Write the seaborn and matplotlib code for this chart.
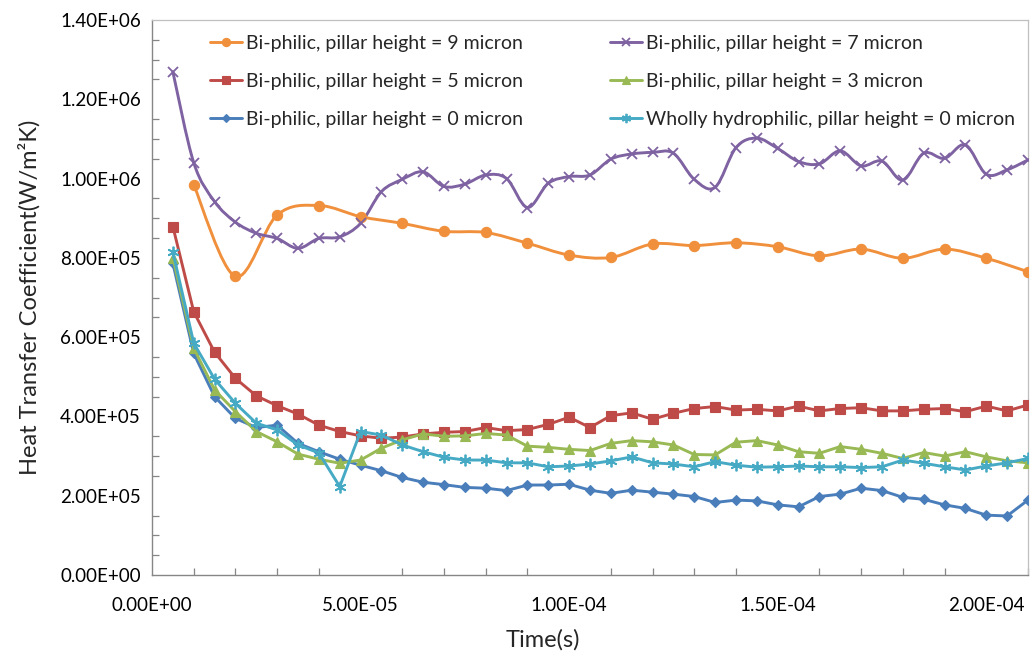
import numpy as np
import pandas as pd
import matplotlib
matplotlib.use("Agg")
import matplotlib.pyplot as plt
from matplotlib.path import Path
from matplotlib.patches import PathPatch
from matplotlib.lines import Line2D
from matplotlib.ticker import MultipleLocator, FuncFormatter
import seaborn as sns

# Sampling instants (microseconds)
time_us_fine = list(range(5, 211, 5))      # every 5 us
time_us_coarse = list(range(10, 211, 10))  # every 10 us

h_9um = [9.84e5, 7.53e5, 9.08e5, 9.32e5, 9.04e5, 8.87e5, 8.67e5, 8.64e5, 8.37e5, 8.07e5,
         8.01e5, 8.35e5, 8.31e5, 8.38e5, 8.28e5, 8.05e5, 8.22e5, 7.99e5, 8.22e5, 7.99e5,
         7.65e5]

h_7um = [1.269e6, 1.040e6, 9.42e5, 8.90e5, 8.62e5, 8.49e5, 8.24e5, 8.49e5, 8.53e5, 8.87e5,
         9.67e5, 9.98e5, 1.017e6, 9.80e5, 9.86e5, 1.009e6, 1.000e6, 9.27e5, 9.88e5, 1.005e6,
         1.009e6, 1.049e6, 1.062e6, 1.066e6, 1.064e6, 9.98e5, 9.78e5, 1.078e6, 1.102e6, 1.076e6,
         1.043e6, 1.037e6, 1.070e6, 1.032e6, 1.044e6, 9.96e5, 1.064e6, 1.051e6, 1.085e6, 1.011e6,
         1.022e6, 1.047e6]

h_5um = [8.79e5, 6.64e5, 5.62e5, 4.96e5, 4.52e5, 4.27e5, 4.06e5, 3.78e5, 3.62e5, 3.51e5,
         3.45e5, 3.48e5, 3.56e5, 3.60e5, 3.62e5, 3.72e5, 3.64e5, 3.67e5, 3.80e5, 3.98e5,
         3.72e5, 4.02e5, 4.09e5, 3.93e5, 4.08e5, 4.20e5, 4.25e5, 4.16e5, 4.18e5, 4.14e5,
         4.26e5, 4.14e5, 4.20e5, 4.22e5, 4.14e5, 4.14e5, 4.18e5, 4.20e5, 4.12e5, 4.26e5,
         4.14e5, 4.29e5]

h_3um = [8.00e5, 5.72e5, 4.67e5, 4.12e5, 3.62e5, 3.36e5, 3.05e5, 2.92e5, 2.82e5, 2.90e5,
         3.20e5, 3.41e5, 3.56e5, 3.50e5, 3.51e5, 3.57e5, 3.53e5, 3.25e5, 3.22e5, 3.17e5,
         3.14e5, 3.32e5, 3.39e5, 3.36e5, 3.28e5, 3.04e5, 3.03e5, 3.35e5, 3.39e5, 3.28e5,
         3.11e5, 3.07e5, 3.24e5, 3.17e5, 3.07e5, 2.94e5, 3.09e5, 3.00e5, 3.11e5, 2.98e5,
         2.88e5, 2.83e5]

h_0um = [7.86e5, 5.59e5, 4.50e5, 3.95e5, 3.72e5, 3.78e5, 3.32e5, 3.11e5, 2.92e5, 2.77e5,
         2.63e5, 2.46e5, 2.34e5, 2.28e5, 2.21e5, 2.19e5, 2.13e5, 2.27e5, 2.27e5, 2.29e5,
         2.14e5, 2.06e5, 2.14e5, 2.09e5, 2.04e5, 1.98e5, 1.83e5, 1.89e5, 1.87e5, 1.77e5,
         1.72e5, 1.98e5, 2.04e5, 2.19e5, 2.13e5, 1.96e5, 1.91e5, 1.77e5, 1.68e5, 1.51e5,
         1.49e5, 1.89e5]

h_hydro = [8.15e5, 5.85e5, 4.94e5, 4.33e5, 3.83e5, 3.66e5, 3.28e5, 3.08e5, 2.23e5, 3.62e5,
           3.53e5, 3.28e5, 3.11e5, 2.97e5, 2.90e5, 2.90e5, 2.83e5, 2.83e5, 2.73e5, 2.75e5,
           2.80e5, 2.88e5, 2.98e5, 2.83e5, 2.80e5, 2.73e5, 2.86e5, 2.77e5, 2.72e5, 2.73e5,
           2.75e5, 2.73e5, 2.73e5, 2.71e5, 2.73e5, 2.90e5, 2.82e5, 2.73e5, 2.65e5, 2.75e5,
           2.83e5, 2.94e5]

# (label, times, values, color, marker, marker size, smoothed line)
series = [
    ("Bi-philic, pillar height = 9 micron", time_us_coarse, h_9um, "#F0903C", "o", 7.4, True),
    ("Bi-philic, pillar height = 5 micron", time_us_fine, h_5um, "#BE4B48", "s", 6.8, False),
    ("Bi-philic, pillar height = 0 micron", time_us_fine, h_0um, "#4A7EBB", "D", 5.4, False),
    ("Bi-philic, pillar height = 7 micron", time_us_fine, h_7um, "#7E62A1", "x", 7.4, True),
    ("Bi-philic, pillar height = 3 micron", time_us_fine, h_3um, "#98B954", "^", 7.4, False),
    ("Wholly hydrophilic, pillar height = 0 micron", time_us_fine, h_hydro, "#46AAC5", (6, 2, 0), 8.4, False),
]

sns.set_theme(style="white")
plt.rcParams["font.family"] = ["Lato", "DejaVu Sans"]

fig = plt.figure(figsize=(10.3, 6.55), dpi=100)
ax = fig.add_axes([0.1476, 0.1221, 0.8504, 0.8474])


def smooth_path(xs, ys):
    """Cubic Bezier path through the points (Catmull-Rom style tangents)."""
    pts = np.column_stack([xs, ys])
    n = len(pts)
    verts = [pts[0]]
    codes = [Path.MOVETO]
    for i in range(n - 1):
        p0 = pts[i - 1] if i > 0 else pts[i]
        p1 = pts[i]
        p2 = pts[i + 1]
        p3 = pts[i + 2] if i + 2 < n else pts[i + 1]
        c1 = p1 + (p2 - p0) / 6.0
        c2 = p2 - (p3 - p1) / 6.0
        verts += [c1, c2, p2]
        codes += [Path.CURVE4] * 3
    return Path(np.array(verts), codes)


LW = 2.1
handles = []
for label, t_us, vals, color, marker, ms, smooth in series:
    df = pd.DataFrame({"t": np.array(t_us) * 1e-6, "h": vals})
    mew = 1.3 if marker in ("x", (6, 2, 0)) else 0.8
    if smooth:
        ax.add_patch(PathPatch(smooth_path(df["t"].values, df["h"].values),
                               facecolor="none", edgecolor=color, lw=LW,
                               capstyle="round", joinstyle="round", zorder=2))
        sns.lineplot(data=df, x="t", y="h", ax=ax, color=color, linestyle="",
                     marker=marker, markersize=ms, markeredgecolor=color,
                     markerfacecolor=color, markeredgewidth=mew, zorder=3)
    else:
        sns.lineplot(data=df, x="t", y="h", ax=ax, color=color, lw=LW,
                     marker=marker, markersize=ms, markeredgecolor=color,
                     markerfacecolor=color, markeredgewidth=mew, sort=False, zorder=3)
    handles.append(Line2D([], [], color=color, lw=LW, marker=marker,
                          markersize=ms * 0.8, markeredgecolor=color,
                          markerfacecolor=color, markeredgewidth=mew, label=label))

ax.set_xlim(0, 2.1e-4)
ax.set_ylim(0, 1.4e6)

ax.xaxis.set_major_locator(MultipleLocator(5e-5))
ax.xaxis.set_minor_locator(MultipleLocator(1e-5))
ax.yaxis.set_major_locator(MultipleLocator(2e5))
ax.yaxis.set_minor_locator(MultipleLocator(5e4))
sci = FuncFormatter(lambda v, pos: f"{v:.2E}")
ax.xaxis.set_major_formatter(sci)
ax.yaxis.set_major_formatter(sci)

ax.tick_params(axis="both", which="both", direction="in", length=5, width=0.9,
               color="#868686", labelsize=13.5, labelcolor="#000000")
ax.tick_params(axis="x", which="major", pad=16)
ax.tick_params(axis="y", which="major", pad=8)
ax.tick_params(which="minor", bottom=True, left=True)

for side in ("top", "right"):
    ax.spines[side].set_color("#BFBFBF")
    ax.spines[side].set_linewidth(0.9)
for side in ("left", "bottom"):
    ax.spines[side].set_color("#868686")
    ax.spines[side].set_linewidth(1.0)
ax.grid(False)
ax.set_facecolor("white")

ax.set_xlabel("Time(s)", fontsize=17)
ax.set_ylabel("Heat Transfer Coefficient(W/m²K)", fontsize=17)
ax.xaxis.set_label_coords(0.446, -0.098)
ax.yaxis.set_label_coords(-0.127, 0.5)

ax.legend(handles=handles, ncol=2, loc="upper left", bbox_to_anchor=(0.057, 0.987),
          frameon=False, fontsize=14, handlelength=1.65, handletextpad=0.2,
          columnspacing=4.5, labelspacing=1.07, borderaxespad=0.0)

fig.savefig("out.png", dpi=100, facecolor="white")
